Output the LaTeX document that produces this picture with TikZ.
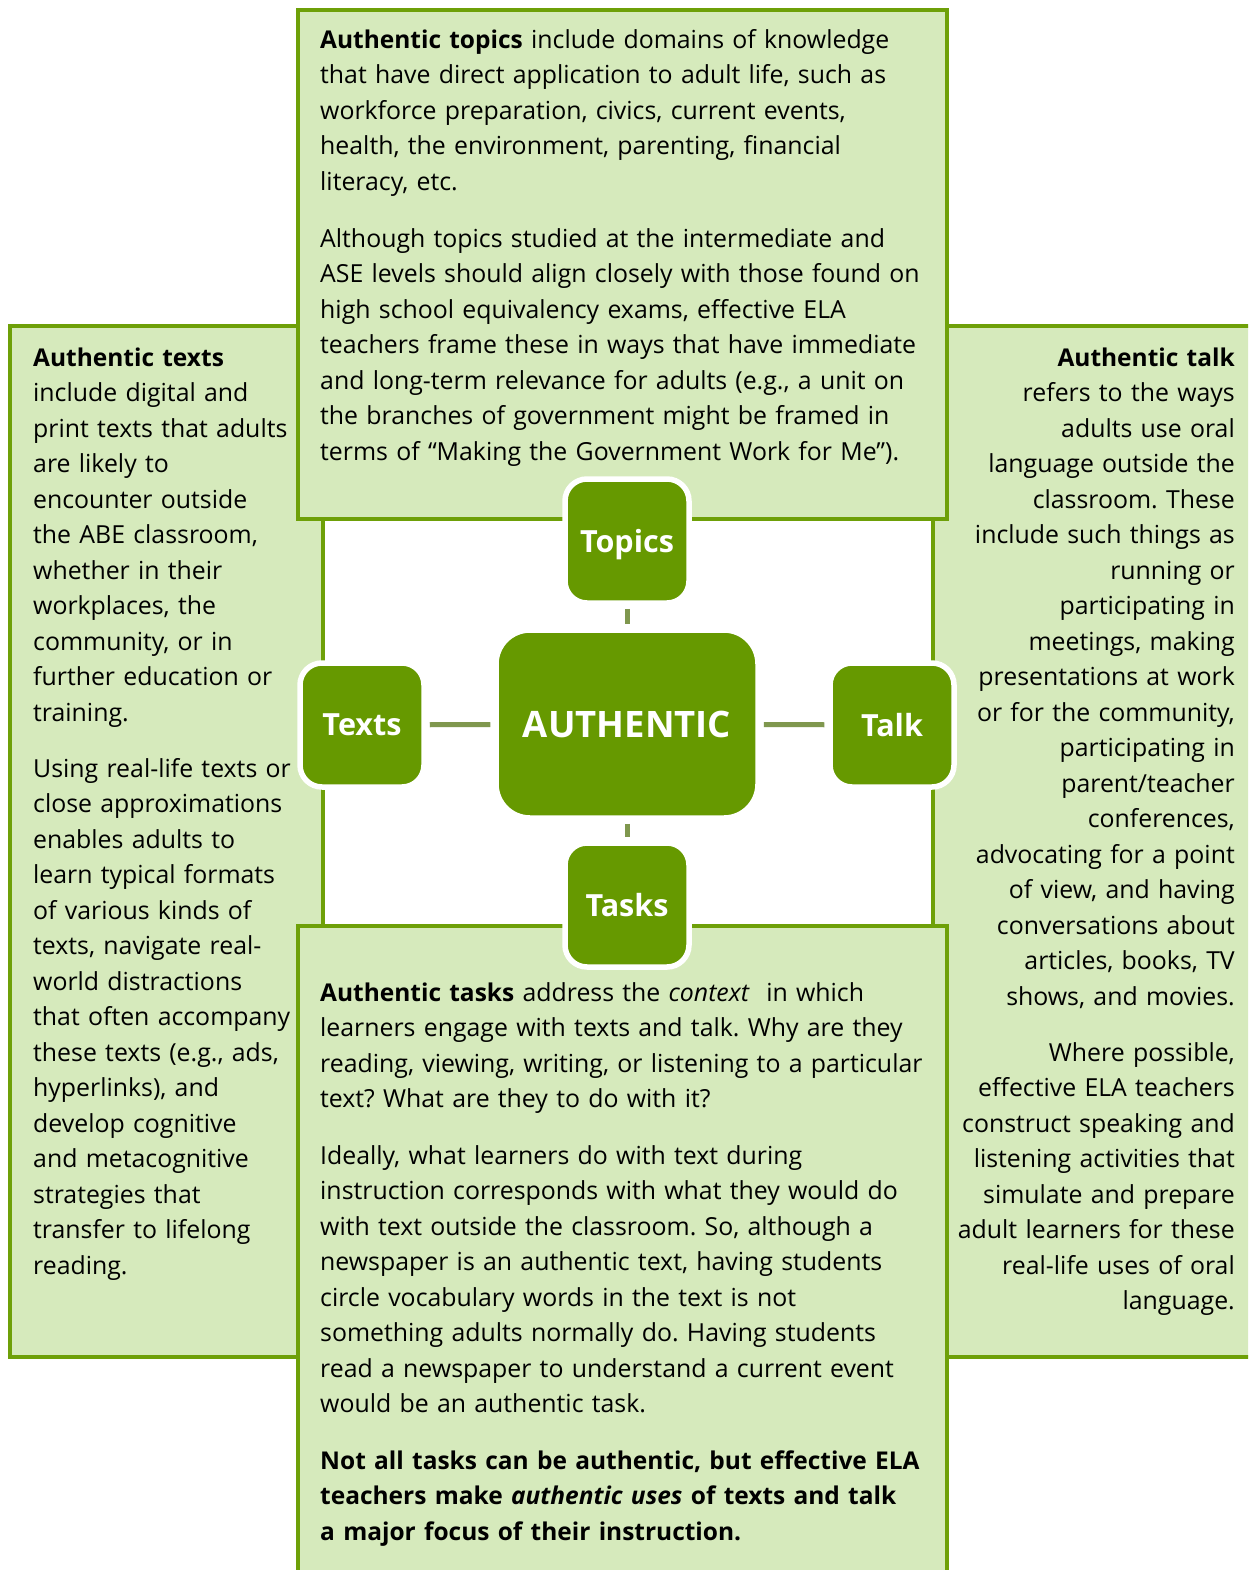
\documentclass[tikz,border=0pt]{standalone}
\usepackage{fontspec}
\setmainfont{Open Sans}[BoldFeatures={Scale=0.985},BoldItalicFeatures={Scale=0.985}]
\definecolor{boxfill}{RGB}{214,234,188}
\definecolor{boxline}{RGB}{110,160,8}
\definecolor{hubgreen}{RGB}{102,153,0}
\definecolor{linkcol}{RGB}{127,151,78}
\newcommand{\fl}{\rule{0pt}{30pt}}
\begin{document}
\begin{tikzpicture}[x=1pt,y=-1pt,
  box/.style={draw=boxline, fill=boxfill, line width=4.5pt},
  hub/.style={rectangle, rounded corners=22pt, fill=hubgreen, draw=white, line width=5.5pt,
    minimum width=124pt, minimum height=124pt, inner sep=0pt, text depth=0pt,
    text=white, font=\fontsize{31}{36}\selectfont\bfseries},
  core/.style={hub, rounded corners=34pt, minimum width=262pt, minimum height=188pt,
    font=\fontsize{37}{42}\selectfont\bfseries},
  link/.style={draw=linkcol, line width=5pt, shorten <=3pt, shorten >=3pt},
  paral/.style={anchor=north west, inner sep=0pt, align=left, text width=#1,
    font=\fontsize{24.85}{35.5}\selectfont\frenchspacing},
  parar/.style={anchor=north east, inner sep=0pt, align=right, text width=#1,
    font=\fontsize{24.85}{35.5}\selectfont\frenchspacing}
]
\fill[white] (0,0) rectangle (1248,1570);
\clip (0,0) rectangle (1248,1570);

% side boxes
\draw[box] (10,326) rectangle (323,1357);
\draw[box] (933,326) rectangle (1270,1357);
% top and bottom boxes
\draw[box] (298,10) rectangle (947,519);
\draw[box] (298,926) rectangle (947,1600);

% top box text
\node[paral=660pt] (topA) at (320,18) {\fl\textbf{Authentic topics} include domains of knowledge\\
that have direct application to adult life, such as\\
workforce preparation, civics, current events,\\
health, the environment, parenting, financial\\
literacy, etc.};
\node[paral=660pt] (topB) at (320,217) {\fl Although topics studied at the intermediate and\\
ASE levels should align closely with those found on\\
high school equivalency exams, effective ELA\\
teachers frame these in ways that have immediate\\
and long-term relevance for adults (e.g., a unit on\\
the branches of government might be framed in\\
terms of “Making the Government Work for Me”).};

% left box text
\node[paral=300pt] (leftA) at (33,336) {\fl\textbf{Authentic texts}\\
include digital and\\
print texts that adults\\
are likely to\\
encounter outside\\
the ABE classroom,\\
whether in their\\
workplaces, the\\
community, or in\\
further education or\\
training.};
\node[paral=300pt] (leftB) at (33,747) {\fl Using real-life texts or\\
close approximations\\
enables adults to\\
learn typical formats\\
of various kinds of\\
texts, navigate real-\\
world distractions\\
that often accompany\\
these texts (e.g., ads,\\
hyperlinks), and\\
develop cognitive\\
and metacognitive\\
strategies that\\
transfer to lifelong\\
reading.};

% right box text
\node[parar=300pt] (rightA) at (1235,336) {\fl\textbf{Authentic talk}\\
refers to the ways\\
adults use oral\\
language outside the\\
classroom. These\\
include such things as\\
running or\\
participating in\\
meetings, making\\
presentations at work\\
or for the community,\\
participating in\\
parent/teacher\\
conferences,\\
advocating for a point\\
of view, and having\\
conversations about\\
articles, books, TV\\
shows, and movies.};
\node[parar=300pt] (rightB) at (1235,1031) {\fl Where possible,\\
effective ELA teachers\\
construct speaking and\\
listening activities that\\
simulate and prepare\\
adult learners for these\\
real-life uses of oral\\
language.};

% bottom box text
\node[paral=660pt] (botA) at (320,971) {\fl\textbf{Authentic tasks} address the \textit{context}\ \ in which\\
learners engage with texts and talk. Why are they\\
reading, viewing, writing, or listening to a particular\\
text? What are they to do with it?};
\node[paral=660pt] (botB) at (320,1134) {\fl Ideally, what learners do with text during\\
instruction corresponds with what they would do\\
with text outside the classroom. So, although a\\
newspaper is an authentic text, having students\\
circle vocabulary words in the text is not\\
something adults normally do. Having students\\
read a newspaper to understand a current event\\
would be an authentic task.};
\node[paral=660pt] (botC) at (320,1439) {\fl\bfseries Not all tasks can be authentic, but effective ELA\\
teachers make \textit{authentic uses} of texts and talk\\
a major focus of their instruction.};

% hub nodes
\node[core] (auth) at (627,724) {AUTHENTIC};
\node[hub] (topics) at (627,541) {Topics};
\node[hub] (texts) at (362,725) {Texts};
\node[hub] (talk) at (892,725) {Talk};
\node[hub] (tasks) at (627,905) {Tasks};

% connectors
\draw[link] (topics) -- (auth);
\draw[link] (texts) -- (auth);
\draw[link] (auth) -- (talk);
\draw[link] (auth) -- (tasks);
\end{tikzpicture}
\end{document}
